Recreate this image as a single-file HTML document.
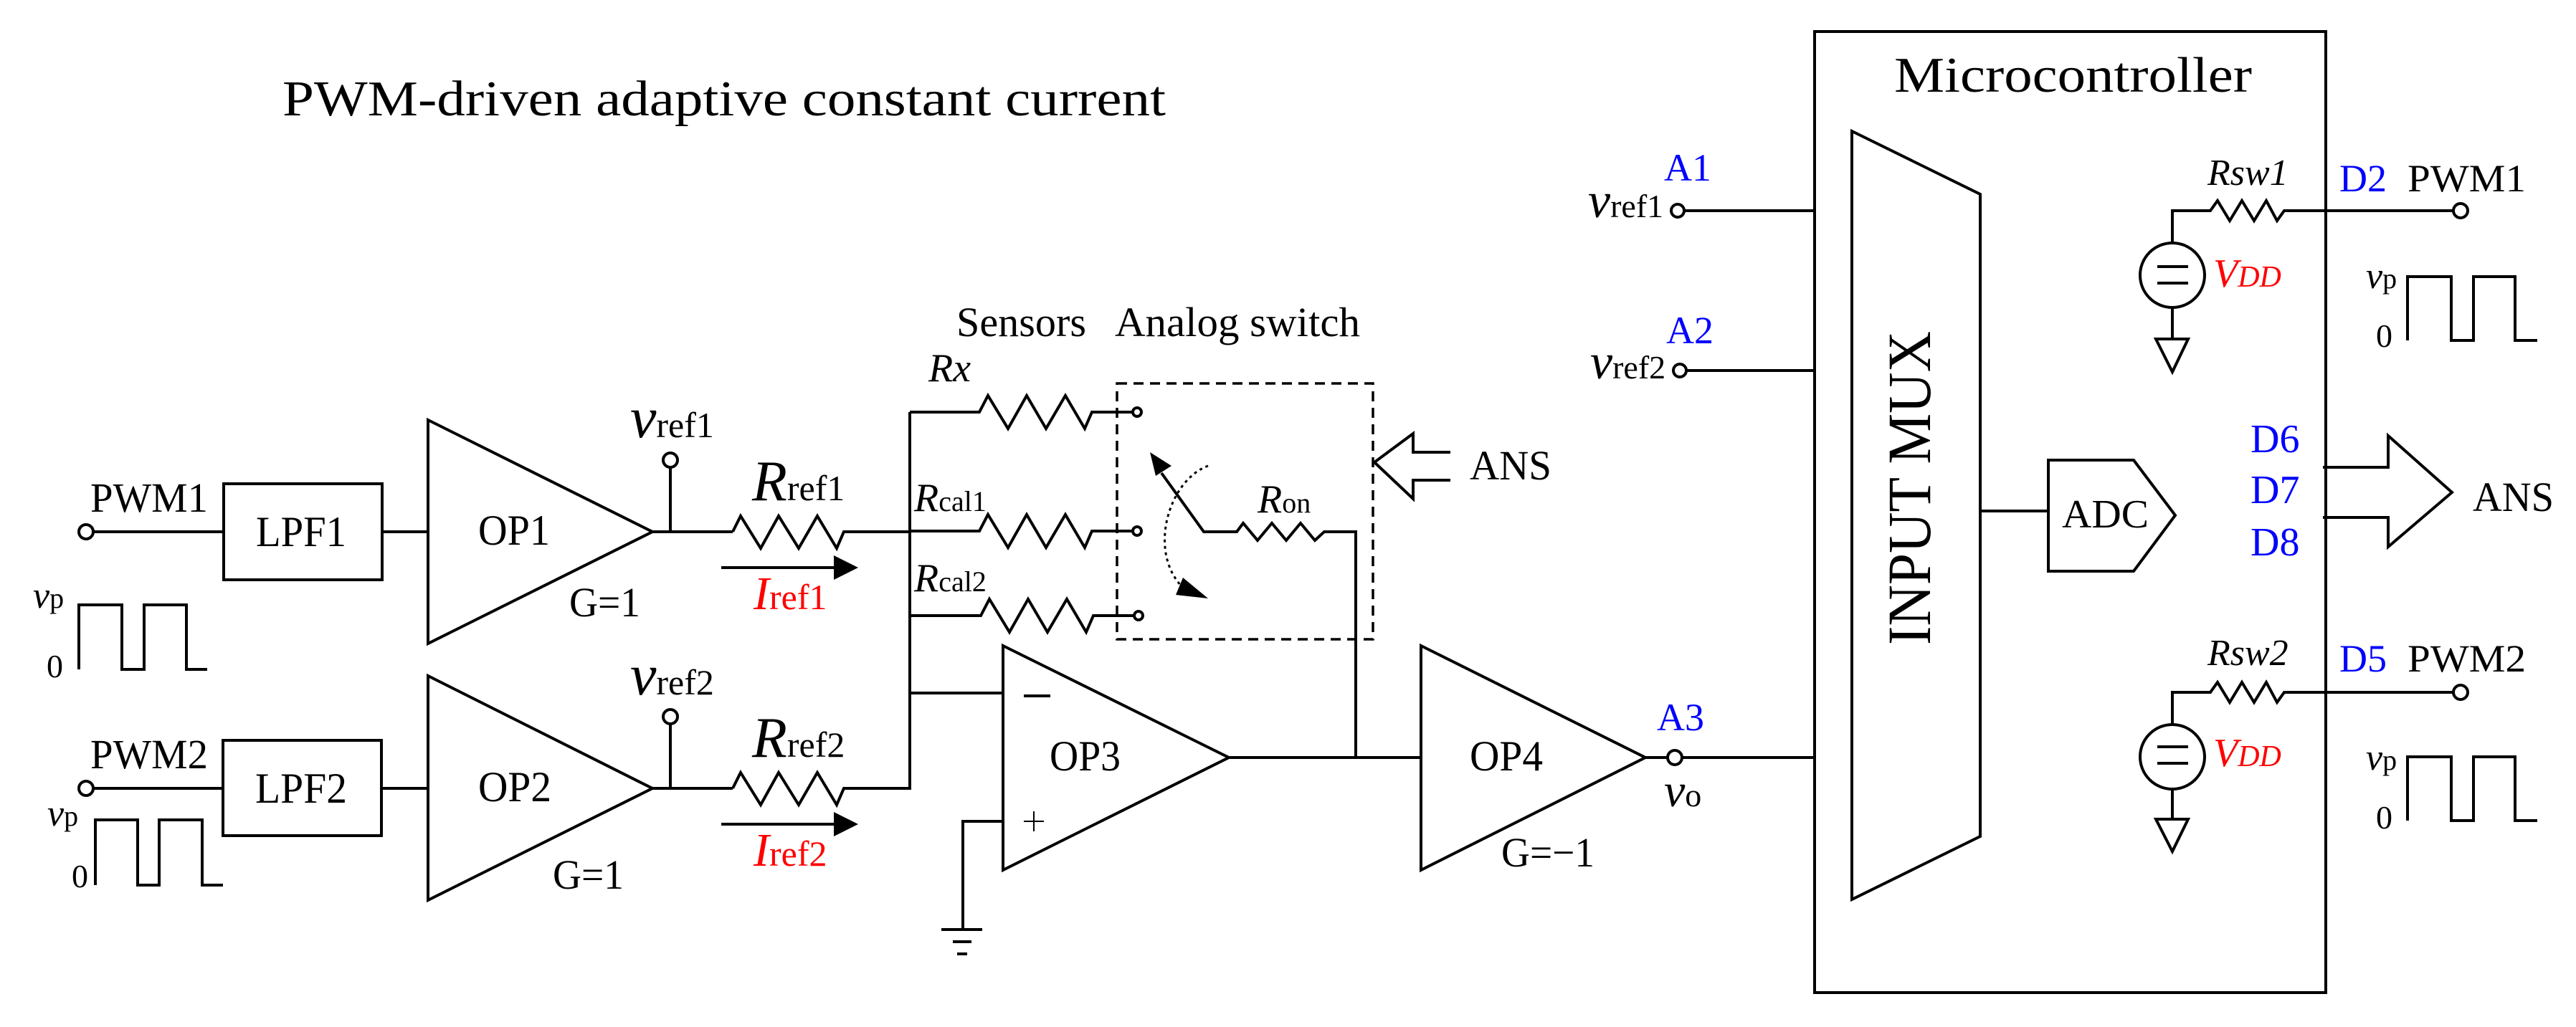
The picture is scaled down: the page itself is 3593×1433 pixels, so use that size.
<!DOCTYPE html>
<html><head><meta charset="utf-8"><style>
html,body{margin:0;padding:0;background:#fff;}
svg{display:block;}
text{font-family:"Liberation Serif",serif;fill:#000;}
.b{fill:#0000ff;}
.r{fill:#ff0000;}
.i{font-style:italic;}
</style></head><body>
<svg width="3593" height="1433" viewBox="0 0 3593 1433" xmlns="http://www.w3.org/2000/svg">
<g fill="none" stroke="#000" stroke-width="4" stroke-linejoin="miter">
<!-- Row 1 -->
<circle cx="120" cy="742" r="10"/>
<line x1="130" y1="742" x2="312" y2="742"/>
<rect x="312" y="675" width="221" height="134"/>
<line x1="533" y1="742" x2="597" y2="742"/>
<polygon points="597,586 910,742 597,898"/>
<line x1="910" y1="742" x2="1022" y2="742"/>
<line x1="935" y1="652" x2="935" y2="742"/>
<circle cx="935" cy="642" r="10"/>
<polyline points="1022,742 1033,720 1061,765 1086,720 1114,765 1140,720 1167,765 1177,742 1269,742"/>
<polyline points="110,934 110,844 170,844 170,934 201,934 201,844 260,844 260,934 289,934"/>
<!-- Row 2 -->
<circle cx="120" cy="1100" r="10"/>
<line x1="130" y1="1100" x2="311" y2="1100"/>
<rect x="311" y="1033" width="221" height="133"/>
<line x1="532" y1="1100" x2="597" y2="1100"/>
<polygon points="597,943 910,1100 597,1256"/>
<line x1="910" y1="1100" x2="1022" y2="1100"/>
<line x1="935" y1="1010" x2="935" y2="1100"/>
<circle cx="935" cy="1000" r="10"/>
<polyline points="1022,1100 1033,1078 1061,1123 1086,1078 1114,1123 1140,1078 1167,1123 1177,1100 1269,1100 1269,575"/>
<polyline points="133,1235 133,1144 192,1144 192,1235 222,1235 222,1144 282,1144 282,1235 311,1235"/>
<!-- sensors -->
<polyline points="1269,575 1366,575 1378,552 1406,598 1432,552 1459,598 1486,552 1513,598 1523,575 1580,575"/>
<circle cx="1586" cy="575" r="6"/>
<polyline points="1269,741 1366,741 1378,718 1406,764 1432,718 1459,764 1486,718 1513,764 1523,741 1580,741"/>
<circle cx="1586" cy="741" r="6"/>
<polyline points="1269,859 1368,859 1380,836 1408,882 1434,836 1461,882 1488,836 1515,882 1525,859 1582,859"/>
<circle cx="1588" cy="859" r="6"/>
<line x1="1269" y1="967" x2="1399" y2="967"/>
<rect x="1558" y="535" width="357" height="357" stroke-dasharray="14,9" stroke-width="3.5"/>
<!-- switch -->
<polyline points="1620,660 1679,742 1725,742 1734,730 1754,754 1774,730 1794,754 1814,730 1834,754 1847,742 1891,742 1891,1057"/>
<path d="M1685,650 C1630,670 1600,770 1650,820" stroke-dasharray="4,5" stroke-width="3"/>
<!-- OP3 -->
<polygon points="1399,901 1714,1057 1399,1214"/>
<line x1="1428" y1="971" x2="1465" y2="971"/>
<line x1="1442" y1="1132" x2="1442" y2="1160" stroke-width="2"/>
<line x1="1428" y1="1146" x2="1456" y2="1146" stroke-width="2"/>
<polyline points="1399,1146 1343,1146 1343,1297"/>
<line x1="1313" y1="1297" x2="1370" y2="1297"/>
<line x1="1329" y1="1314" x2="1355" y2="1314"/>
<line x1="1335" y1="1331" x2="1349" y2="1331"/>
<line x1="1714" y1="1057" x2="1982" y2="1057"/>
<!-- OP4 -->
<polygon points="1982,901 2295,1057 1982,1214"/>
<line x1="2295" y1="1057" x2="2326" y2="1057"/>
<circle cx="2336" cy="1057" r="10"/>
<line x1="2346" y1="1057" x2="2531" y2="1057"/>
<!-- ANS hollow arrow (middle), open at right -->
<polyline points="2023,631 1971,631 1971,605 1917,645 1971,696 1971,670 2023,670"/>
<!-- A1 A2 -->
<circle cx="2340" cy="294" r="9"/>
<line x1="2349" y1="294" x2="2531" y2="294"/>
<circle cx="2343" cy="517" r="9"/>
<line x1="2352" y1="517" x2="2531" y2="517"/>
<!-- MCU -->
<rect x="2531" y="44" width="713" height="1341"/>
<polygon points="2583,183 2762,271 2762,1167 2583,1255"/>
<line x1="2762" y1="713" x2="2857" y2="713"/>
<polygon points="2857,642 2976,642 3034,719 2976,797 2857,797"/>
<polyline points="3240,652 3331,652 3331,608 3420,687 3331,763 3331,722 3240,722"/>
<!-- Rsw1 -->
<polyline points="3030,340 3030,294 3083,294 3093,280 3110,308 3127,280 3144,308 3161,280 3176,308 3186,294 3422,294"/>
<circle cx="3432" cy="294" r="10"/>
<circle cx="3030" cy="384" r="45"/>
<line x1="3009" y1="372" x2="3052" y2="372"/>
<line x1="3009" y1="395" x2="3052" y2="395"/>
<line x1="3030" y1="429" x2="3030" y2="473"/>
<polygon points="3007,473 3052,473 3030,519"/>
<polyline points="3358,475 3358,386 3419,386 3419,475 3450,475 3450,386 3508,386 3508,475 3539,475"/>
<!-- Rsw2 -->
<polyline points="3030,1011 3030,966 3083,966 3093,952 3110,980 3127,952 3144,980 3161,952 3176,980 3186,966 3422,966"/>
<circle cx="3432" cy="966" r="10"/>
<circle cx="3030" cy="1056" r="45"/>
<line x1="3009" y1="1042" x2="3052" y2="1042"/>
<line x1="3009" y1="1065" x2="3052" y2="1065"/>
<line x1="3030" y1="1101" x2="3030" y2="1143"/>
<polygon points="3007,1143 3052,1143 3030,1188"/>
<polyline points="3358,1145 3358,1056 3419,1056 3419,1145 3450,1145 3450,1056 3508,1056 3508,1145 3539,1145"/>
</g>
<!-- filled arrows -->
<g fill="#000" stroke="#000" stroke-width="4">
<line x1="1006" y1="792" x2="1165" y2="792"/>
<polygon points="1163,775 1197,792 1163,809" stroke="none"/>
<line x1="1006" y1="1150" x2="1165" y2="1150"/>
<polygon points="1163,1133 1197,1150 1163,1167" stroke="none"/>
<polygon points="1604,631 1634,650 1612,664" stroke="none"/>
<polygon points="1685,835 1650,806 1640,830" stroke="none"/>
</g>
<!-- Text -->
<text x="394" y="161" font-size="70" textLength="1232" lengthAdjust="spacingAndGlyphs">PWM-driven adaptive constant current</text>
<text x="126" y="714" font-size="58" textLength="164" lengthAdjust="spacingAndGlyphs">PWM1</text>
<text x="357" y="762" font-size="60" textLength="126" lengthAdjust="spacingAndGlyphs">LPF1</text>
<text x="667" y="760" font-size="60" textLength="100" lengthAdjust="spacingAndGlyphs">OP1</text>
<text x="794" y="860" font-size="58" textLength="99" lengthAdjust="spacingAndGlyphs">G=1</text>
<text x="879" y="610"><tspan class="i" font-size="82">v</tspan><tspan font-size="50">ref1</tspan></text>
<text x="1049" y="698"><tspan class="i" font-size="80">R</tspan><tspan font-size="50">ref1</tspan></text>
<text x="1051" y="850" class="r"><tspan class="i r" font-size="66">I</tspan><tspan class="r" font-size="50">ref1</tspan></text>
<text x="46" y="848"><tspan class="i" font-size="52">v</tspan><tspan font-size="40">p</tspan></text>
<text x="65" y="945" font-size="46">0</text>

<text x="126" y="1072" font-size="58" textLength="164" lengthAdjust="spacingAndGlyphs">PWM2</text>
<text x="356" y="1120" font-size="60" textLength="128" lengthAdjust="spacingAndGlyphs">LPF2</text>
<text x="667" y="1118" font-size="60" textLength="102" lengthAdjust="spacingAndGlyphs">OP2</text>
<text x="771" y="1240" font-size="58" textLength="99" lengthAdjust="spacingAndGlyphs">G=1</text>
<text x="879" y="969"><tspan class="i" font-size="82">v</tspan><tspan font-size="50">ref2</tspan></text>
<text x="1049" y="1056"><tspan class="i" font-size="80">R</tspan><tspan font-size="50">ref2</tspan></text>
<text x="1051" y="1208" class="r"><tspan class="i r" font-size="66">I</tspan><tspan class="r" font-size="50">ref2</tspan></text>
<text x="66" y="1152"><tspan class="i" font-size="52">v</tspan><tspan font-size="40">p</tspan></text>
<text x="100" y="1238" font-size="46">0</text>

<text x="1334" y="469" font-size="58" textLength="181" lengthAdjust="spacingAndGlyphs">Sensors</text>
<text x="1555" y="469" font-size="58" textLength="342" lengthAdjust="spacingAndGlyphs">Analog switch</text>
<text x="1295" y="532" class="i" font-size="56">Rx</text>
<text x="1275" y="713"><tspan class="i" font-size="56">R</tspan><tspan font-size="40">cal1</tspan></text>
<text x="1275" y="825"><tspan class="i" font-size="56">R</tspan><tspan font-size="40">cal2</tspan></text>
<text x="1754" y="715"><tspan class="i" font-size="56">R</tspan><tspan font-size="40">on</tspan></text>
<text x="2050" y="669" font-size="58" textLength="114" lengthAdjust="spacingAndGlyphs">ANS</text>
<text x="1464" y="1075" font-size="60" textLength="99" lengthAdjust="spacingAndGlyphs">OP3</text>
<text x="2050" y="1075" font-size="60" textLength="102" lengthAdjust="spacingAndGlyphs">OP4</text>
<text x="2094" y="1209" font-size="58" textLength="130" lengthAdjust="spacingAndGlyphs">G=−1</text>
<text x="2311" y="1019" font-size="54" class="b">A3</text>
<text x="2321" y="1125"><tspan class="i" font-size="66">v</tspan><tspan font-size="46">o</tspan></text>
<text x="2321" y="252" font-size="54" class="b">A1</text>
<text x="2215" y="303"><tspan class="i" font-size="70">v</tspan><tspan font-size="46">ref1</tspan></text>
<text x="2324" y="479" font-size="54" class="b">A2</text>
<text x="2218" y="528"><tspan class="i" font-size="70">v</tspan><tspan font-size="46">ref2</tspan></text>

<text x="2642" y="128" font-size="70" textLength="499" lengthAdjust="spacingAndGlyphs">Microcontroller</text>
<text transform="translate(2692,900) rotate(-90)" font-size="86" textLength="438" lengthAdjust="spacingAndGlyphs">INPUT MUX</text>
<text x="2876" y="736" font-size="56" textLength="121" lengthAdjust="spacingAndGlyphs">ADC</text>
<text x="3139" y="631" font-size="56" class="b">D6</text>
<text x="3139" y="702" font-size="56" class="b">D7</text>
<text x="3139" y="775" font-size="56" class="b">D8</text>
<text x="3449" y="713" font-size="58" textLength="113" lengthAdjust="spacingAndGlyphs">ANS</text>
<text x="3079" y="258" font-size="52" class="i">Rsw1</text>
<text x="3087" y="400"><tspan class="i r" font-size="56">V</tspan><tspan class="i r" font-size="42">DD</tspan></text>
<text x="3263" y="267" font-size="54" class="b">D2</text>
<text x="3358" y="267" font-size="54" textLength="165" lengthAdjust="spacingAndGlyphs">PWM1</text>
<text x="3300" y="402"><tspan class="i" font-size="52">v</tspan><tspan font-size="40">p</tspan></text>
<text x="3314" y="484" font-size="46">0</text>
<text x="3079" y="928" font-size="52" class="i">Rsw2</text>
<text x="3087" y="1069"><tspan class="i r" font-size="56">V</tspan><tspan class="i r" font-size="42">DD</tspan></text>
<text x="3263" y="937" font-size="54" class="b">D5</text>
<text x="3358" y="937" font-size="54" textLength="165" lengthAdjust="spacingAndGlyphs">PWM2</text>
<text x="3300" y="1074"><tspan class="i" font-size="52">v</tspan><tspan font-size="40">p</tspan></text>
<text x="3314" y="1156" font-size="46">0</text>
</svg>
</body></html>
